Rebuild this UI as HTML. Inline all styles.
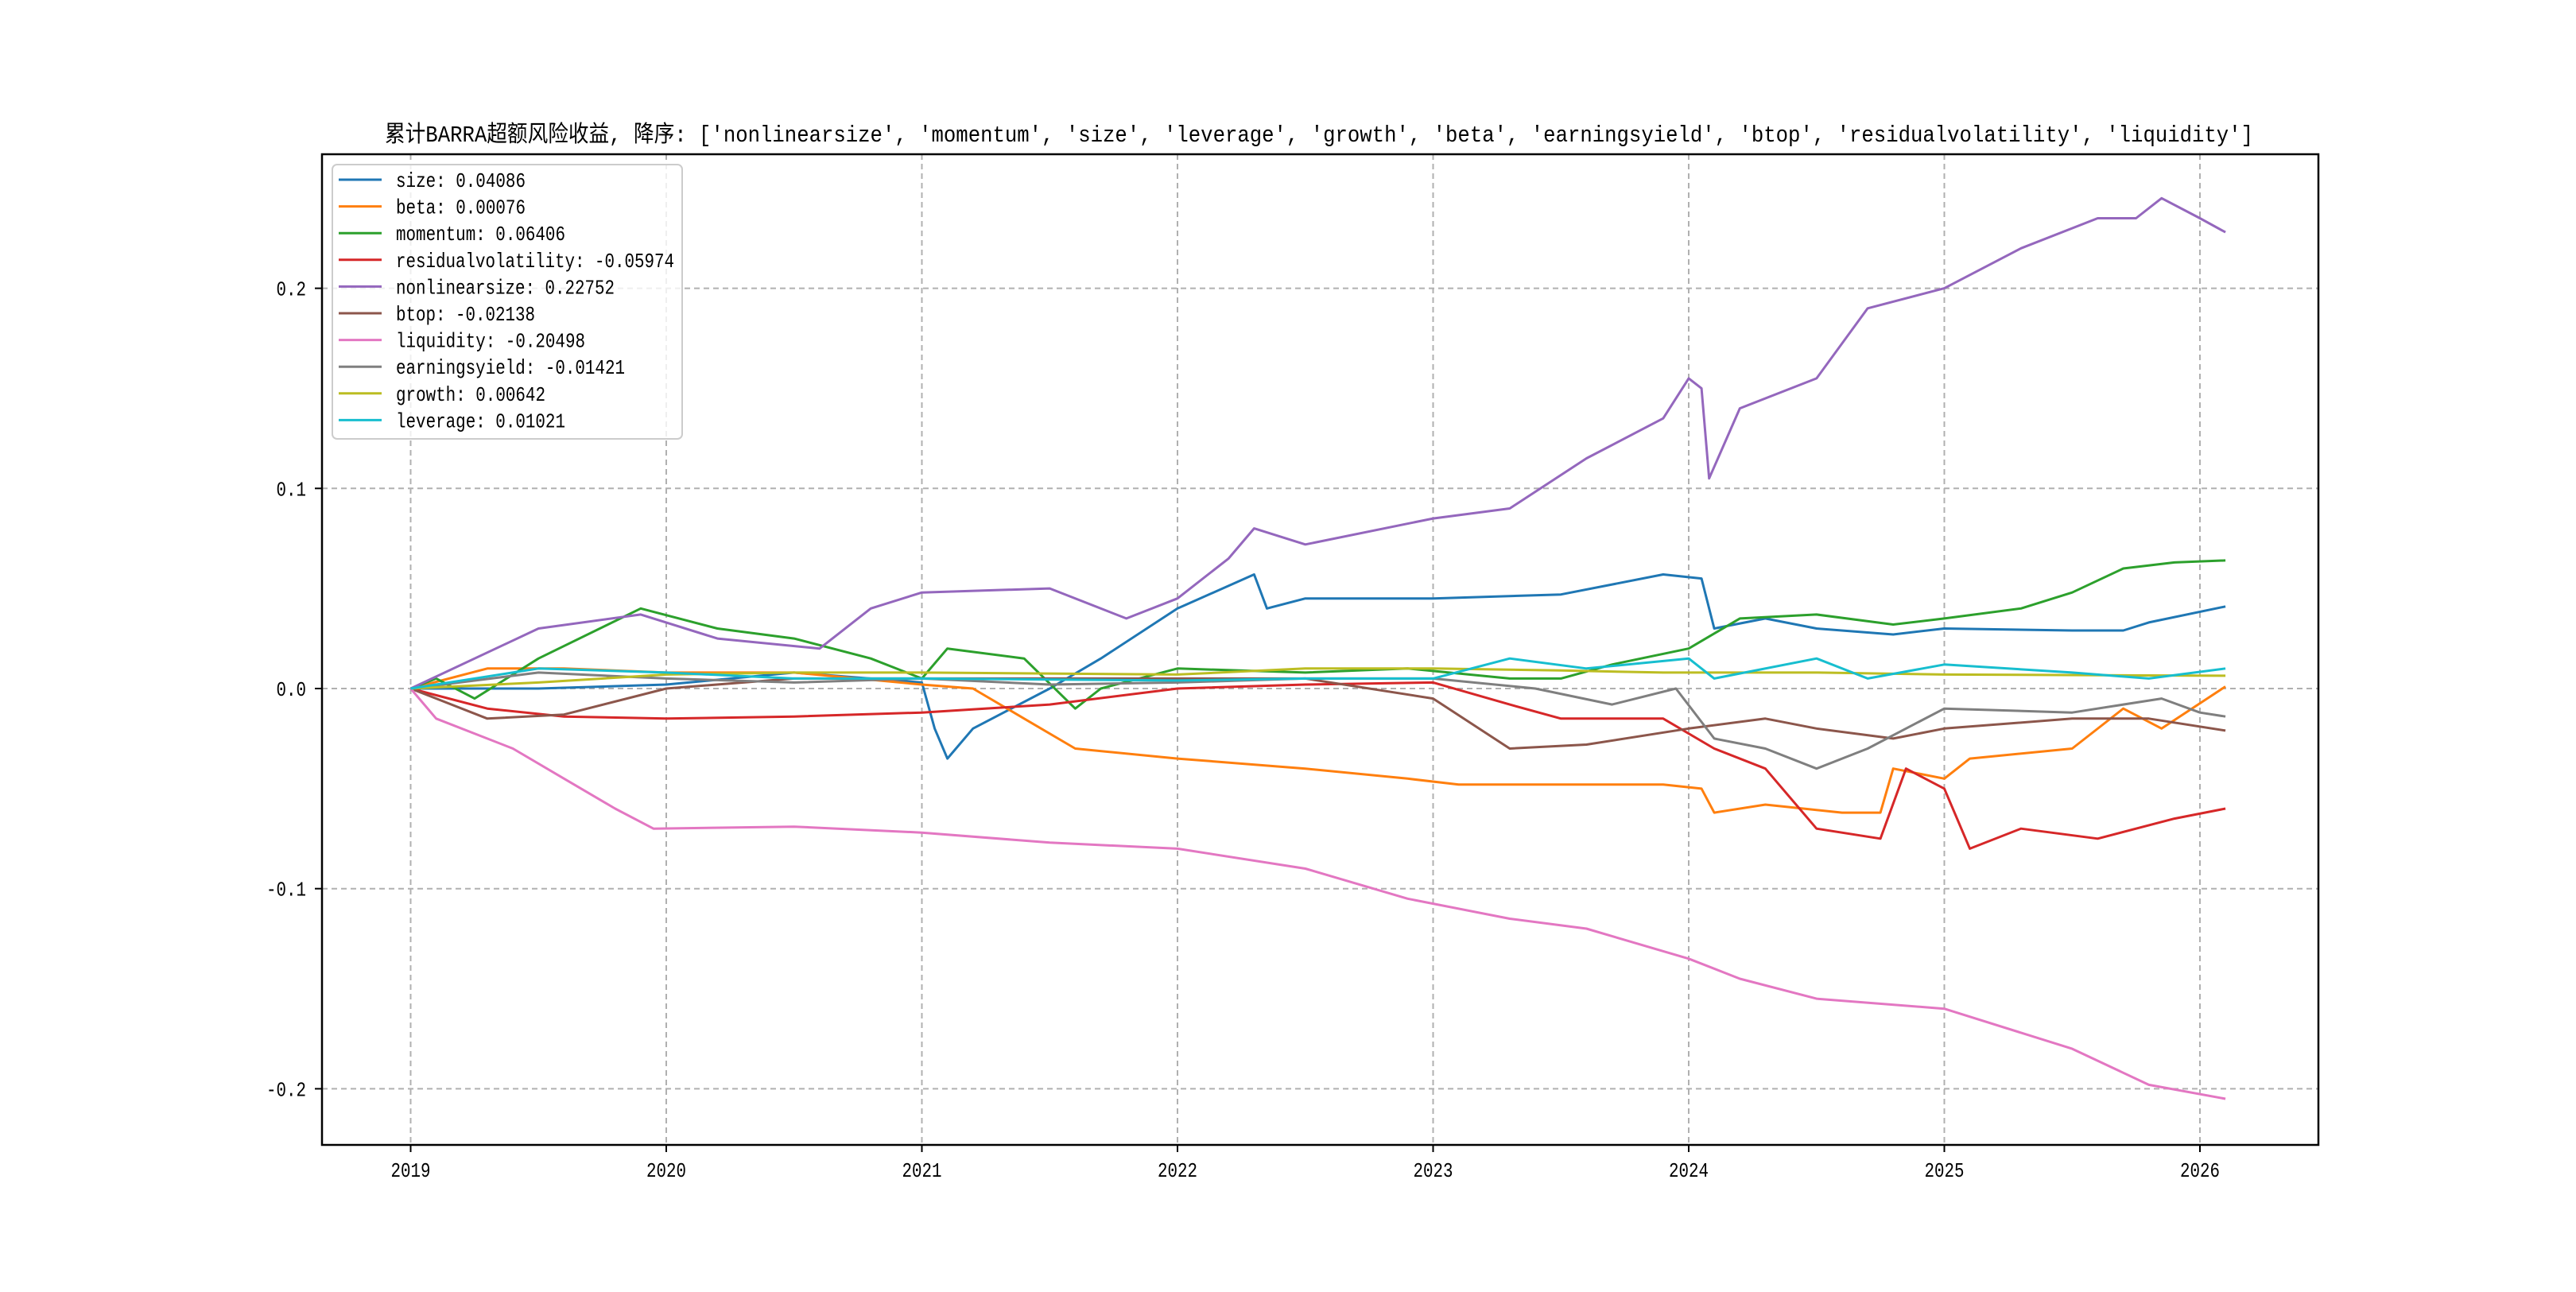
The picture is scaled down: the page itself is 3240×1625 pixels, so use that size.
<!DOCTYPE html>
<html><head><meta charset="utf-8"><style>
html,body{margin:0;padding:0;background:#fff;}
svg text{font-family:"Liberation Mono","Noto Sans CJK SC",monospace;}
</style></head><body>
<svg id="chart" width="3240" height="1620" xmlns="http://www.w3.org/2000/svg">
<rect width="3240" height="1620" fill="#fff"/>
<g id="grid"></g><g id="series"></g><g id="axes"></g><g id="legend"></g>
</svg>
<script>
const xTicks=[2019,2020,2021,2022,2023,2024,2025,2026];
const yTicks=[-0.2,-0.1,0.0,0.1,0.2];
const yTickLabels=["-0.2","-0.1","0.0","0.1","0.2"];
const names=["size","beta","momentum","residualvolatility","nonlinearsize","btop","liquidity","earningsyield","growth","leverage"];
const finals=["0.04086","0.00076","0.06406","-0.05974","0.22752","-0.02138","-0.20498","-0.01421","0.00642","0.01021"];
const colors=["#1f77b4","#ff7f0e","#2ca02c","#d62728","#9467bd","#8c564b","#e377c2","#7f7f7f","#bcbd22","#17becf"];
const sizeT=[2019,2019.5,2020,2020.5,2021,2021.05,2021.1,2021.2,2021.5,2021.7,2022,2022.3,2022.35,2022.5,2023,2023.5,2023.9,2024.05,2024.1,2024.3,2024.5,2024.8,2025,2025.5,2025.7,2025.8,2026.1];
const sizeV=[0,0,0.002,0.008,0.003,-0.02,-0.035,-0.02,0,0.015,0.04,0.057,0.04,0.045,0.045,0.047,0.057,0.055,0.03,0.035,0.03,0.027,0.03,0.029,0.029,0.033,0.041];
const betaT=[2019,2019.3,2019.6,2020,2020.5,2021,2021.2,2021.4,2021.6,2022,2022.5,2022.9,2023.1,2023.5,2023.9,2024.05,2024.1,2024.3,2024.6,2024.75,2024.8,2025,2025.1,2025.5,2025.7,2025.85,2026.1];
const betaV=[0,0.01,0.01,0.008,0.008,0.002,0,-0.015,-0.03,-0.035,-0.04,-0.045,-0.048,-0.048,-0.048,-0.05,-0.062,-0.058,-0.062,-0.062,-0.04,-0.045,-0.035,-0.03,-0.01,-0.02,0.001];
const momT=[2019,2019.1,2019.25,2019.5,2019.9,2020.2,2020.5,2020.8,2021,2021.1,2021.4,2021.6,2021.7,2022,2022.5,2022.9,2023.3,2023.5,2023.7,2024,2024.2,2024.5,2024.8,2025,2025.3,2025.5,2025.7,2025.9,2026.1];
const momV=[0,0.005,-0.005,0.015,0.04,0.03,0.025,0.015,0.005,0.02,0.015,-0.01,0,0.01,0.008,0.01,0.005,0.005,0.012,0.02,0.035,0.037,0.032,0.035,0.04,0.048,0.06,0.063,0.064];
const resT=[2019,2019.3,2019.6,2020,2020.5,2021,2021.5,2022,2022.5,2023,2023.3,2023.5,2023.9,2024.1,2024.3,2024.5,2024.75,2024.85,2025,2025.1,2025.3,2025.6,2025.9,2026.1];
const resV=[0,-0.01,-0.014,-0.015,-0.014,-0.012,-0.008,0,0.002,0.003,-0.008,-0.015,-0.015,-0.03,-0.04,-0.07,-0.075,-0.04,-0.05,-0.08,-0.07,-0.075,-0.065,-0.06];
const nlT=[2019,2019.5,2019.9,2020.2,2020.6,2020.8,2021,2021.5,2021.8,2022,2022.2,2022.3,2022.5,2023,2023.3,2023.6,2023.9,2024,2024.05,2024.08,2024.2,2024.5,2024.7,2025,2025.3,2025.6,2025.75,2025.85,2026,2026.1];
const nlV=[0,0.03,0.037,0.025,0.02,0.04,0.048,0.05,0.035,0.045,0.065,0.08,0.072,0.085,0.09,0.115,0.135,0.155,0.15,0.105,0.14,0.155,0.19,0.2,0.22,0.235,0.235,0.245,0.235,0.228];
const btopT=[2019,2019.3,2019.6,2020,2020.5,2021,2021.5,2022,2022.5,2023,2023.3,2023.6,2024,2024.3,2024.5,2024.8,2025,2025.5,2025.8,2026.1];
const btopV=[0,-0.015,-0.013,0,0.005,0.005,0.005,0.005,0.005,-0.005,-0.03,-0.028,-0.02,-0.015,-0.02,-0.025,-0.02,-0.015,-0.015,-0.021];
const liqT=[2019,2019.1,2019.4,2019.6,2019.8,2019.95,2020.5,2021,2021.5,2022,2022.5,2022.9,2023.3,2023.6,2024,2024.2,2024.5,2025,2025.5,2025.8,2026.1];
const liqV=[0,-0.015,-0.03,-0.045,-0.06,-0.07,-0.069,-0.072,-0.077,-0.08,-0.09,-0.105,-0.115,-0.12,-0.135,-0.145,-0.155,-0.16,-0.18,-0.198,-0.205];
const eyT=[2019,2019.5,2020,2020.5,2021,2021.5,2022,2022.5,2023,2023.4,2023.7,2023.95,2024.1,2024.3,2024.5,2024.7,2024.85,2025,2025.5,2025.85,2026,2026.1];
const eyV=[0,0.008,0.005,0.003,0.005,0.002,0.003,0.005,0.005,0,-0.008,0,-0.025,-0.03,-0.04,-0.03,-0.02,-0.01,-0.012,-0.005,-0.012,-0.014];
const grT=[2019,2019.5,2020,2020.5,2021,2022,2022.5,2023,2023.5,2023.9,2024.5,2025,2026.1];
const grV=[0,0.003,0.007,0.008,0.008,0.007,0.01,0.01,0.009,0.008,0.008,0.007,0.0064];
const levT=[2019,2019.5,2020,2020.5,2021,2022,2022.5,2023,2023.3,2023.6,2024,2024.1,2024.5,2024.7,2025,2025.5,2025.8,2026.1];
const levV=[0,0.01,0.008,0.005,0.005,0.004,0.005,0.005,0.015,0.01,0.015,0.005,0.015,0.005,0.012,0.008,0.005,0.01];
const seriesT=[sizeT,betaT,momT,resT,nlT,btopT,liqT,eyT,grT,levT];
const seriesV=[sizeV,betaV,momV,resV,nlV,btopV,liqV,eyV,grV,levV];

const L=405,R=2916,T=194,B=1440;
const X=t=>516.5+(t-2019)*321.5;
const Y=v=>866-v*2517;
const NS="http://www.w3.org/2000/svg";
function mk(tag,attrs,parent){const e=document.createElementNS(NS,tag);for(const k in attrs)e.setAttribute(k,attrs[k]);parent.appendChild(e);return e;}
const grid=document.getElementById('grid'),axes=document.getElementById('axes'),ser=document.getElementById('series'),leg=document.getElementById('legend');
xTicks.forEach(t=>{
 const g=mk('line',{x1:X(t),x2:X(t),y1:T,y2:B,stroke:'#b0b0b0','stroke-width':2,'stroke-dasharray':'7,5'},grid);
 
 
 mk('line',{x1:X(t),x2:X(t),y1:B,y2:B+9,stroke:'#000','stroke-width':2},axes);
 const tx=mk('text',{x:X(t),y:B+40,'text-anchor':'middle','font-size':26,textLength:50,lengthAdjust:'spacingAndGlyphs'},axes);tx.textContent=t;
 
 
});
yTicks.forEach((v,i)=>{
 const g=mk('line',{x1:L,x2:R,y1:Y(v),y2:Y(v),stroke:'#b0b0b0','stroke-width':2,'stroke-dasharray':'7,5'},grid);
 
 
 mk('line',{x1:L-9,x2:L,y1:Y(v),y2:Y(v),stroke:'#000','stroke-width':2},axes);
 const lab=yTickLabels[i];
 const tx=mk('text',{x:L-20,y:Y(v)+9,'text-anchor':'end','font-size':26,textLength:lab.length*12.5,lengthAdjust:'spacingAndGlyphs'},axes);tx.textContent=lab;
 
 
});
seriesT.forEach((ts,i)=>{
 const d=ts.map((t,j)=>(j?'L':'M')+X(t).toFixed(1)+','+Y(seriesV[i][j]).toFixed(1)).join(' ');
 const p=mk('path',{d:d,fill:'none',stroke:colors[i],'stroke-width':3,'stroke-linejoin':'round'},ser);
 
 
});
const fr=mk('rect',{x:L,y:T,width:R-L,height:B-T,fill:'none',stroke:'#000','stroke-width':2.5},axes);


const title=mk('text',{x:1659,y:178,'text-anchor':'middle','font-size':29,textLength:2350,lengthAdjust:'spacingAndGlyphs'},axes);
title.textContent="累计BARRA超额风险收益,  降序: ['nonlinearsize', 'momentum', 'size', 'leverage', 'growth', 'beta', 'earningsyield', 'btop', 'residualvolatility', 'liquidity']";


const lb=mk('rect',{x:418,y:207,width:440,height:345,rx:6,fill:'#fff','fill-opacity':0.8,stroke:'#ccc','stroke-width':2},leg);


names.forEach((n,i)=>{
 const y=226+i*33.6;
 const ln=mk('line',{x1:426,x2:480,y1:y,y2:y,stroke:colors[i],'stroke-width':3},leg);
 
 
 const s=n+': '+finals[i];
 const tx=mk('text',{x:498,y:y+9,'font-size':26,textLength:(s.length*12.5).toFixed(0),lengthAdjust:'spacingAndGlyphs'},leg);
 tx.textContent=s;
 
 
});
</script>
</body></html>
